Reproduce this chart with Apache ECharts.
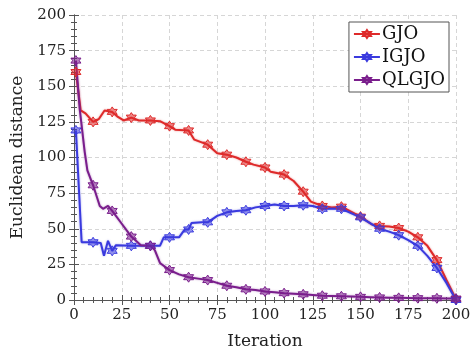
<!DOCTYPE html>
<html>
<head>
<meta charset="utf-8">
<script src="https://cdn.jsdelivr.net/npm/echarts@6/dist/echarts.min.js"></script>
<style>
  html, body { margin: 0; padding: 0; background: #fff; }
  #chart { width: 475px; height: 355px; }
</style>
</head>
<body>
<div id="chart"></div>
<script>
// Iterations where a marker is drawn
const markIters = [1, 10, 20, 30, 40, 50, 60, 70, 80, 90, 100, 110, 120, 130, 140, 150, 160, 170, 180, 190, 200];

// Values at marker iterations
const gjoMarks   = [160, 125, 132, 128, 126, 122, 119, 109, 102, 97, 93, 88, 76, 66, 65.5, 58.5, 52, 50.5, 44, 28, 0.5];
const igjoMarks  = [119, 40.5, 34.5, 38, 38, 44, 49.5, 54.5, 61.5, 63, 66, 66, 66.5, 64, 64, 58, 50, 45.5, 38, 22.5, 0];
const qlgjoMarks = [168, 80.5, 62.5, 44.5, 38, 21, 16, 14, 10, 7.5, 6, 4.8, 4, 3, 2.6, 2.2, 1.8, 1.5, 1.3, 1.2, 1.0];

// Intermediate curve points [iteration, value]
const gjoMid = [[3.5, 133], [6, 131], [13, 127], [16, 133], [23, 128.5], [26, 126], [34, 126], [45, 125.5],
  [53, 119.5], [63, 112.5], [75, 103], [85, 100], [94, 95], [103, 90], [115, 83.5], [124, 69], [135, 65],
  [145, 62], [156, 53], [165, 51.5], [175, 48], [185, 38], [195, 14]];
const igjoMid = [[4, 40.5], [14, 40], [15.7, 31], [17.8, 41.5], [22, 38.5], [45, 38], [47, 44], [55, 44],
  [58, 49.5], [61.5, 54], [67, 54.5], [75, 59], [85, 62.5], [95, 65], [105, 67], [115, 66], [125, 66],
  [135, 64], [145, 61], [155, 54], [165, 48], [175, 42], [185, 31], [195, 12]];
const qlgjoMid = [[3, 134], [5.6, 104], [7, 91], [13.5, 66], [15.2, 64], [17.8, 66], [25, 53.5], [35, 38.5],
  [42.3, 35], [45, 26], [55, 18], [65, 15], [75, 12], [85, 9], [95, 7], [105, 5.5], [115, 4.4], [125, 3.5],
  [135, 2.8], [145, 2.4], [155, 2], [165, 1.6], [175, 1.4], [185, 1.2], [195, 1.1]];

const xTicks = [0, 25, 50, 75, 100, 125, 150, 175, 200];
const yTicks = [0, 25, 50, 75, 100, 125, 150, 175, 200];

// Six-pointed star marker
const hexStar = 'path://M0,-10L2.887,-5L8.66,-5L5.774,0L8.66,5L2.887,5L0,10L-2.887,5L-8.66,5L-5.774,0L-8.66,-5L-2.887,-5Z';

function buildData(marks, mids) {
  const pts = markIters.map((x, i) => ({ value: [x, marks[i]] }));
  mids.forEach(p => pts.push({ value: p, symbol: 'none' }));
  pts.sort((a, b) => a.value[0] - b.value[0]);
  return pts;
}

const FONT = 'DejaVu Serif';

function makeSeries(name, color, fill, glow, marks, mids) {
  return {
    name: name,
    type: 'line',
    data: buildData(marks, mids),
    symbol: hexStar,
    symbolSize: 10,
    showAllSymbol: true,
    lineStyle: { color: color, width: 2, shadowColor: glow, shadowBlur: 2 },
    itemStyle: { color: fill, borderColor: color, borderWidth: 1 },
    emphasis: { disabled: true },
    animation: false,
    z: 3
  };
}

const axisCommon = {
  type: 'value',
  min: 0,
  max: 200,
  interval: 25,
  axisLine: { show: true, lineStyle: { color: '#555', width: 1 } },
  axisTick: { show: true, inside: true, length: 5, lineStyle: { color: '#555' } },
  minorTick: { show: true, splitNumber: 5, length: 3, lineStyle: { color: '#555' } },
  axisLabel: { show: true, color: '#222', fontFamily: FONT, fontSize: 15 },
  splitLine: { show: false }
};

const chart = echarts.init(document.getElementById('chart'), null, { renderer: 'canvas' });
chart.setOption({
  backgroundColor: '#fff',
  animation: false,
  textStyle: { fontFamily: FONT },
  grid: { left: 74, right: 19, top: 15, bottom: 51, containLabel: false },
  legend: {
    orient: 'vertical',
    right: 26,
    top: 22,
    padding: [3, 4, 3, 4],
    itemGap: 5,
    itemWidth: 26,
    itemHeight: 10,
    backgroundColor: '#fff',
    borderColor: '#555',
    borderWidth: 1,
    borderRadius: 0,
    textStyle: { fontFamily: FONT, fontSize: 18, color: '#111', padding: [0, 0, 0, -3] },
    data: ['GJO', 'IGJO', 'QLGJO']
  },
  xAxis: [
    Object.assign({}, axisCommon, {
      position: 'bottom',
      name: 'Iteration',
      nameLocation: 'middle',
      nameGap: 33,
      nameTextStyle: { fontFamily: FONT, fontSize: 17, color: '#222' },
      axisLabel: Object.assign({}, axisCommon.axisLabel, { margin: 8, formatter: v => xTicks.includes(v) ? String(v) : '' }),
      splitLine: { show: true, lineStyle: { color: '#d6d6d6', type: [4, 3], width: 1 } }
    }),
    Object.assign({}, axisCommon, {
      position: 'top',
      axisLabel: { show: false }
    })
  ],
  yAxis: [
    Object.assign({}, axisCommon, {
      position: 'left',
      name: 'Euclidean distance',
      nameLocation: 'middle',
      nameGap: 40,
      nameRotate: 90,
      nameTextStyle: { fontFamily: FONT, fontSize: 17, color: '#222' },
      axisLabel: Object.assign({}, axisCommon.axisLabel, { margin: 8, formatter: v => yTicks.includes(v) ? String(v) : '' }),
      splitLine: { show: true, lineStyle: { color: '#d6d6d6', type: [4, 3], width: 1 } }
    }),
    Object.assign({}, axisCommon, {
      position: 'right',
      axisLabel: { show: false }
    })
  ],
  series: [
    makeSeries('GJO', '#de2a2a', 'rgba(222,42,42,0.55)', 'rgba(222,42,42,0.5)', gjoMarks, gjoMid),
    makeSeries('IGJO', '#3a3ade', 'rgba(58,58,222,0.55)', 'rgba(58,58,222,0.5)', igjoMarks, igjoMid),
    makeSeries('QLGJO', '#7a1e8c', 'rgba(122,30,140,0.55)', 'rgba(122,30,140,0.5)', qlgjoMarks, qlgjoMid)
  ]
});
</script>
</body>
</html>
